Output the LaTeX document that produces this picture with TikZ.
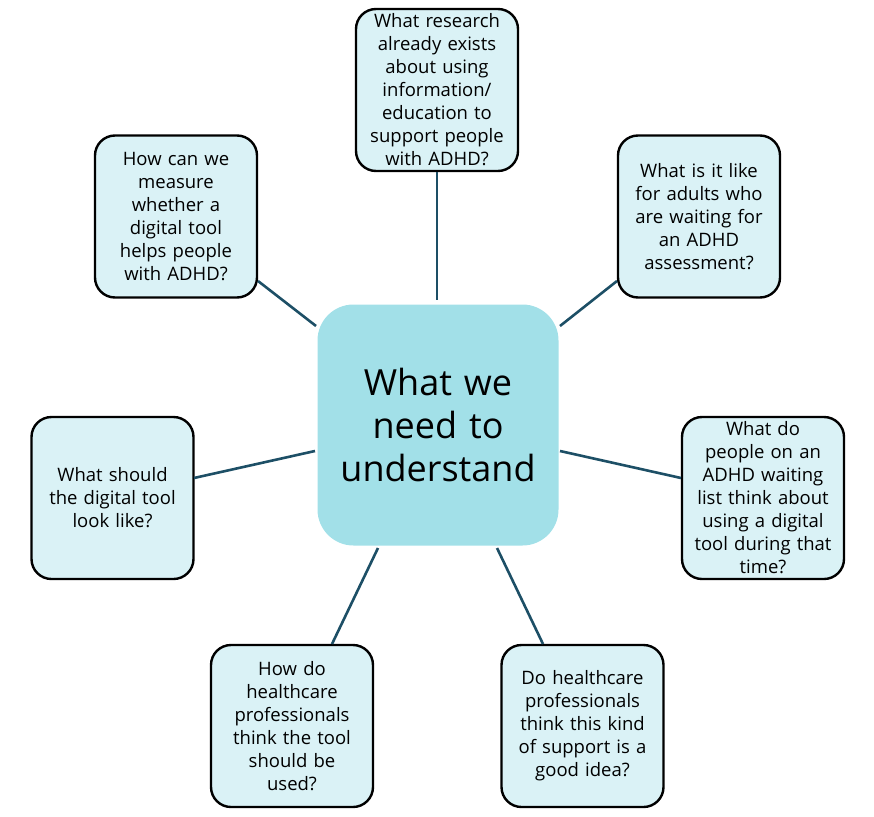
\documentclass[tikz,border=0pt]{standalone}
\usepackage{fontspec}
\setmainfont{Open Sans}
\definecolor{centerfill}{HTML}{A2E0E8}
\definecolor{boxfill}{HTML}{DAF2F6}
\definecolor{linkcol}{HTML}{1D4F66}
\tikzset{
  qbox/.style={draw=black, line width=2.4pt, fill=boxfill, rounded corners=20pt,
    minimum width=162pt, minimum height=162pt, inner sep=0pt, align=center,
    text width=160pt, font=\fontsize{18.5}{23}\selectfont},
  hub/.style={fill=centerfill, rounded corners=36pt, minimum width=241pt,
    minimum height=241pt, inner sep=0pt, align=center, text width=230pt,
    font=\fontsize{36}{43}\selectfont},
  link/.style={draw=linkcol, line width=2.6pt}
}
\begin{document}
\begin{tikzpicture}[x=1pt,y=-1pt]
\useasboundingbox (0,0) rectangle (874,816);
\node[hub] (c) at (438,425) {What we\\need to\\understand};
\node[qbox] (t) at (437,90) {What research\\already exists\\about using\\information/\\education to\\support people\\with ADHD?};
\node[qbox] (tl) at (176,216.5) {How can we\\measure\\whether a\\digital tool\\helps people\\with ADHD?};
\node[qbox] (tr) at (699,216.5) {What is it like\\for adults who\\are waiting for\\an ADHD\\assessment?};
\node[qbox] (l) at (112.5,498) {What should\\the digital tool\\look like?};
\node[qbox] (r) at (763,498) {What do\\people on an\\ADHD waiting\\list think about\\using a digital\\tool during that\\time?};
\node[qbox] (bl) at (292,726) {How do\\healthcare\\professionals\\think the tool\\should be\\used?};
\node[qbox] (br) at (582.5,726) {Do healthcare\\professionals\\think this kind\\of support is a\\good idea?};
\coordinate (ct) at (437,300);
\coordinate (ctl) at (316,326);
\coordinate (ctr) at (560,326);
\coordinate (cl) at (315,451);
\coordinate (cr) at (560,451);
\coordinate (cbl) at (378,548);
\coordinate (cbr) at (497,548);
\coordinate (et) at (437,172);
\coordinate (etl) at (258,281);
\coordinate (etr) at (617,281);
\coordinate (el) at (194,478);
\coordinate (er) at (681,478);
\coordinate (ebl) at (332,644);
\coordinate (ebr) at (543,644);
\draw[link] (et) -- (ct);
\draw[link] (etl) -- (ctl);
\draw[link] (etr) -- (ctr);
\draw[link] (el) -- (cl);
\draw[link] (er) -- (cr);
\draw[link] (ebl) -- (cbl);
\draw[link] (ebr) -- (cbr);
\end{tikzpicture}
\end{document}
